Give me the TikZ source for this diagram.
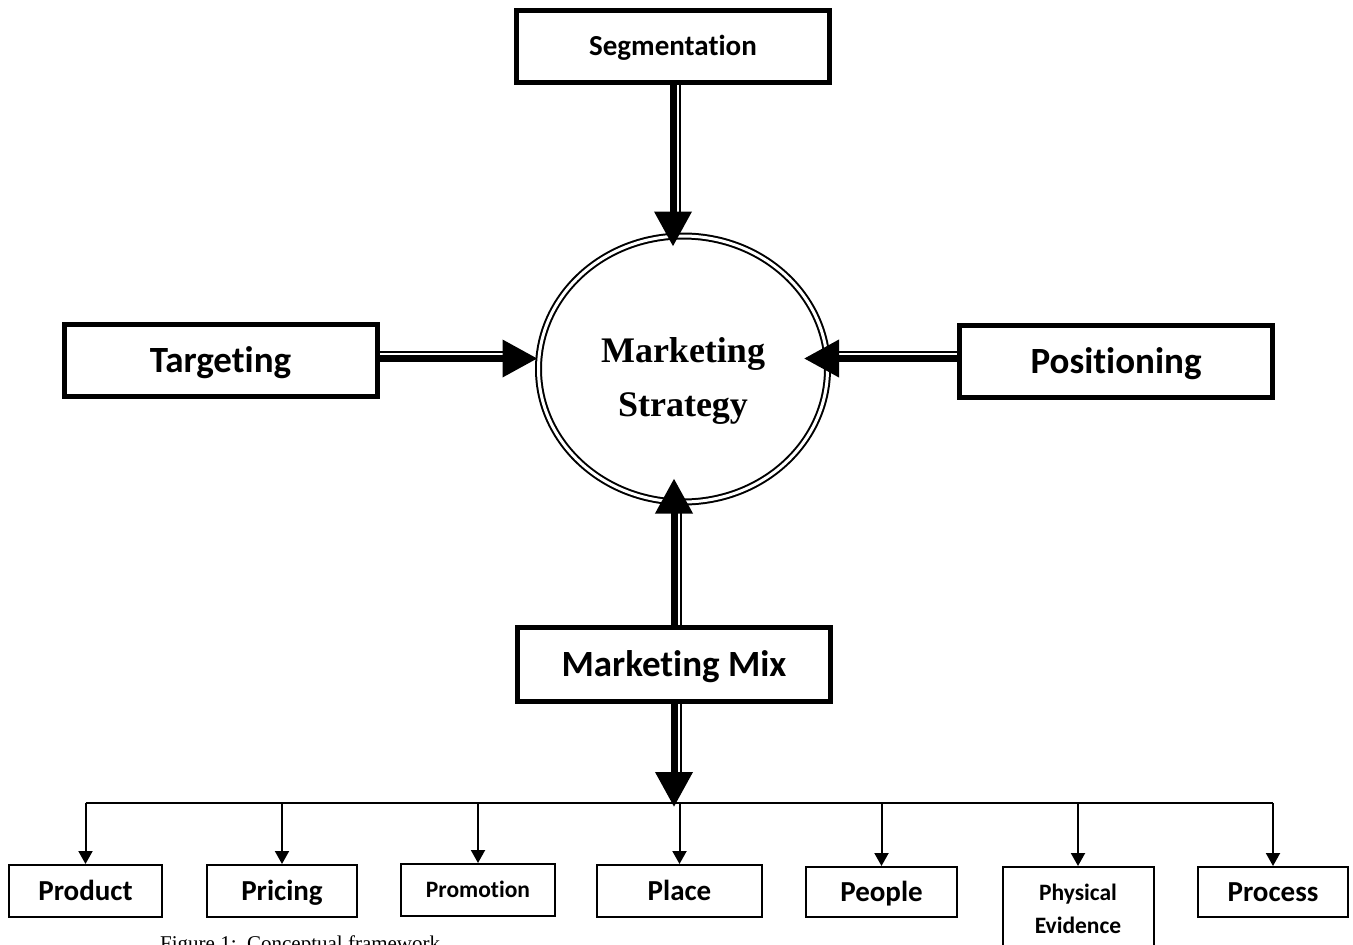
\documentclass[tikz,border=0pt]{standalone}
\usepackage{fontspec}
\setmainfont{Carlito}[Ligatures={NoCommon,NoContextual}]
\newfontfamily\serifmain{Liberation Serif}
\usetikzlibrary{arrows.meta,positioning,shapes.geometric,calc}

\begin{document}
\begin{tikzpicture}[x=1pt,y=-1pt,
  big/.style={draw,line width=5pt,minimum width=313pt,minimum height=72pt,inner sep=0pt,
    text height=24pt,text depth=0pt,font=\fontsize{37}{44}\selectfont\bfseries},
  mix/.style={draw,line width=2pt,minimum width=151pt,minimum height=52pt,inner sep=0pt,
    text height=18.7pt,text depth=0pt,font=\fontsize{29}{34}\selectfont\bfseries},
  % thick shaft with a thin companion line beside it
  vdbl/.style={line width=7pt,-{Triangle[length=35pt,width=36pt]},
    postaction={draw,-,line width=2pt,shorten >=33pt,transform canvas={xshift=6.5pt}}},
  hdbl/.style={line width=7pt,-{Triangle[length=35pt,width=36pt]},
    postaction={draw,-,line width=2pt,shorten >=33pt,transform canvas={yshift=6.5pt}}},
  drop/.style={line width=2pt,-{Triangle[length=13pt,width=14pt]}}]
  \useasboundingbox (0,0) rectangle (1353,945);

  \node[draw,ellipse,double,line width=2pt,double distance=3pt,minimum width=289pt,
    minimum height=266pt,inner sep=0pt] (ms) at (683,369) {};
  \node[align=center,font=\serifmain\bfseries\fontsize{36}{54}\selectfont] (mstxt) at (683,381)
    {Marketing\\Strategy};

  \node[big,text height=18.7pt,font=\fontsize{29}{34}\selectfont\bfseries] (seg) at (673,46.5) {Segmentation};
  \node[big] (tg) at (220.5,360) {Targeting};
  \node[big] (ps) at (1116,361) {Positioning};
  \node[big,minimum height=74pt] (mm) at (674,664.5) {Marketing Mix};

  \draw[vdbl] (seg.south) -- ($(seg.south |- ms.north)+(0,11.5)$);
  \draw[hdbl] ([yshift=1.5pt]tg.east) -- ([yshift=1.5pt]tg.east -| ms.west);
  \draw[hdbl] ([yshift=2.5pt]ps.west) -- ($([yshift=2.5pt]ps.west -| ms.east)+(-24.5,0)$);
  \draw[vdbl] (mm.north) -- ($(mm.north |- ms.south)+(0,-24.5)$);

  % the seven Ps
  \node[mix,minimum width=153pt] (prod) at (85.5,891) {Product};
  \node[mix,minimum width=150pt] (pric) at (282,891) {Pricing};
  \node[mix,minimum width=154pt,text height=15.1pt,font=\fontsize{23.5}{28}\selectfont\bfseries] (prom) at (478,890) {Promotion};
  \node[mix,minimum height=50pt] (peop) at (881.5,892) {People};
  \node[mix,minimum width=165pt] (plac) at (679.5,891) {Place};
  \node[mix,minimum height=84pt,align=center,text height=,text depth=,
    font=\fontsize{23.5}{33}\selectfont\bfseries] (phys) at (1078,909) {Physical\\Evidence};
  \node[mix,minimum width=150pt,minimum height=50pt] (proc) at (1273,892) {Process};

  \coordinate (bus) at (0,803);
  \draw[vdbl] (mm.south) -- ($(mm.south |- bus)+(0,4)$);
  \draw[line width=2pt] (prod.north |- bus) -- (proc.north |- bus);
  \foreach \p in {prod,pric,prom,plac,peop,phys,proc}
    \draw[drop] (\p.north |- bus) -- (\p.north);

  \node[anchor=base west,inner sep=0pt,font=\serifmain\fontsize{21}{25}\selectfont] (cap) at (160,950)
    {Figure 1:\ \ Conceptual framework};
\end{tikzpicture}
\end{document}
